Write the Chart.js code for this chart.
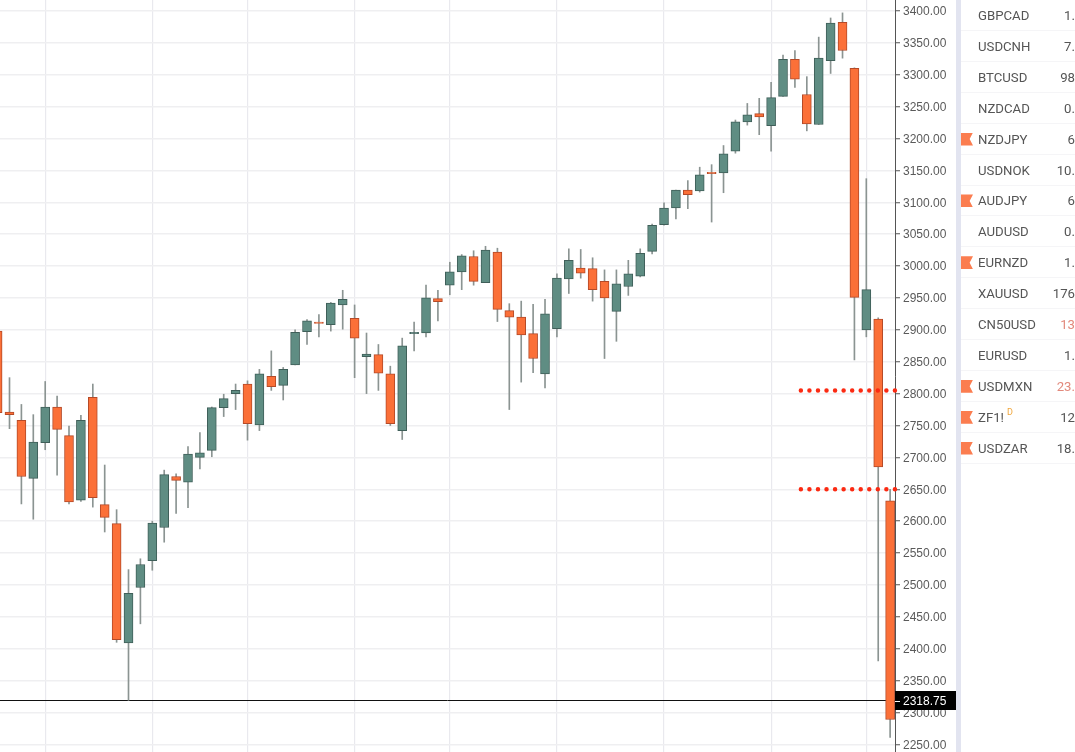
<!DOCTYPE html>
<html><head><meta charset="utf-8">
<script src="https://cdn.jsdelivr.net/npm/chart.js@4/dist/chart.umd.js"></script>
<style>
html,body{margin:0;padding:0;background:#fff;width:1075px;height:752px;overflow:hidden}
#wrap{position:relative;width:1075px;height:752px;overflow:hidden;filter:blur(0.45px)}
canvas{position:absolute;left:0;top:0;display:block}
#strip{position:absolute;left:956px;top:0;width:5px;height:752px;background:#e2e4f0}
#list{position:absolute;left:961px;top:0;width:114px;height:752px;overflow:hidden;font-family:Roboto,sans-serif;font-size:13.2px;color:#555}
.row{position:absolute;left:0;width:114px;height:31px;line-height:31px;border-bottom:1px solid #f5f5f7;box-sizing:border-box}
.sym{position:absolute;left:17px;top:0;white-space:nowrap}
.val{position:absolute;right:0;top:0;white-space:nowrap}
.val.neg{color:#e2897c}
.flag{position:absolute;left:0;top:9px;width:12px;height:13px;background:#fb7d50;clip-path:polygon(0 0,100% 0,72% 50%,100% 100%,0 100%)}
sup{position:absolute;top:-5px;margin-left:3px;font-size:9px;color:#f0a63c;line-height:31px}
</style></head><body>
<div id="wrap">
<canvas id="c" width="956" height="752"></canvas>
<div id="strip"></div>
<div id="list"></div>
</div>
<script>
const opens=[2898,2771,2758,2667,2723,2779,2734,2633,2794,2626,2596,2409,2496,2538,2590,2670,2661,2700,2711,2778,2800,2815,2751,2827,2813,2845,2897,2912,2908,2939,2918,2858,2861,2831,2742,2894,2895,2949,2970,2991,3015,2974,3022,2930,2920,2894,2831,2902,2980,2997,2996,2976,2929,2968,2984,3023,3065,3091,3119,3118,3147,3146,3180,3226,3239,3220,3266,3324,3269,3222,3322,3382,3310,2900,2917,2632];
const highs=[2900,2825,2783,2767,2819,2796,2749,2766,2815,2688,2618,2524,2541,2600,2680,2674,2717,2739,2779,2799,2815,2820,2838,2867,2841,2900,2916,2924,2943,2962,2939,2895,2877,2843,2887,2912,2970,2962,3006,3018,3024,3031,3028,2941,2945,2940,2948,2988,3027,3026,3013,2994,2994,3009,3027,3066,3099,3119,3134,3155,3159,3189,3229,3255,3263,3288,3331,3338,3297,3359,3389,3397,3311,3137,2919,2650];
const lows=[2765,2745,2627,2603,2712,2672,2627,2631,2622,2583,2410,2319,2439,2523,2567,2612,2621,2682,2701,2764,2775,2727,2742,2805,2790,2845,2877,2889,2898,2901,2825,2800,2805,2750,2728,2867,2889,2914,2955,2963,2970,2974,2913,2775,2818,2833,2809,2889,2957,2981,2945,2855,2882,2954,2983,3019,3064,3074,3090,3116,3069,3115,3177,3221,3206,3180,3266,3280,3212,3222,3302,3326,2853,2889,2381,2261];
const closes=[2770,2767,2670,2724,2779,2744,2630,2758,2637,2606,2414,2487,2532,2597,2673,2664,2705,2707,2778,2792,2805,2753,2831,2811,2838,2896,2914,2910,2942,2948,2887,2862,2832,2753,2875,2896,2950,2944,2991,3016,2976,3025,2932,2920,2892,2855,2925,2981,3009,2989,2963,2950,2972,2988,3020,3064,3091,3119,3112,3143,3145,3176,3226,3237,3234,3264,3324,3293,3223,3326,3381,3338,2951,2963,2685,2289];
const gridCandles=[4,13,21,30,38,47,56,65,73];
const lastPrice=2318.75;
const levels=[2805,2650];
const levelStartCandle=67.5;
const symbols=["GBPCAD","USDCNH","BTCUSD","NZDCAD","NZDJPY","USDNOK","AUDJPY","AUDUSD","EURNZD","XAUUSD","CN50USD","EURUSD","USDMXN","ZF1!","USDZAR"];
const quotes=["1.","7.","98","0.","6","10.","6","0.","1.","176","13","1.","23.","12","18."];
const flagged=["NZDJPY","AUDJPY","EURNZD","USDMXN","ZF1!","USDZAR"];
const negative=["CN50USD","USDMXN"];

const XMIN=0.2017,XMAX=75.41,YMIN=2238,YMAX=3417.2;
const UP='#5f8d83',UPB='#3f5f59',DN='#fb7038',DNB='#b44a28';
const isUp=i=>closes[i]>=opens[i];

const labelPlugin={id:'lastLabel',afterDraw(ch){
  const y=ch.scales.y,ctx=ch.ctx,py=y.getPixelForValue(lastPrice);
  ctx.save();
  ctx.fillStyle='#000';ctx.fillRect(ch.chartArea.right,Math.round(py)-10,61,19);
  ctx.fillStyle='#fff';ctx.fillRect(ch.chartArea.right,Math.round(py),5,1);
  ctx.font='12px "Liberation Sans"';ctx.textBaseline='middle';ctx.textAlign='left';
  ctx.fillText(lastPrice.toFixed(2),903,Math.round(py)+1);
  ctx.restore();
}};

new Chart(document.getElementById('c'),{
  data:{datasets:[
    ...levels.map(v=>({type:'line',order:0,data:[{x:levelStartCandle,y:v},{x:XMAX,y:v}],borderColor:'#fb2a12',borderWidth:4.5,borderDash:[0,8.55],borderCapStyle:'round',pointRadius:0,clip:false})),
    {type:'bar',order:1,grouped:false,barThickness:9,borderSkipped:false,borderWidth:1,
      data:opens.map((o,i)=>({x:i,y:[o,closes[i]]})),
      backgroundColor:c=>isUp(c.dataIndex)?UP:DN,borderColor:c=>isUp(c.dataIndex)?UPB:DNB},
    {type:'bar',order:2,grouped:false,barThickness:1,borderWidth:0,
      data:highs.map((h,i)=>({x:i,y:[lows[i],h]})),backgroundColor:'#8b9492'},
    {type:'line',order:3,data:[{x:XMIN,y:lastPrice},{x:XMAX,y:lastPrice}],borderColor:'#111',borderWidth:1,pointRadius:0}
  ]},
  options:{responsive:false,animation:false,
    layout:{padding:0},
    plugins:{legend:{display:false},tooltip:{enabled:false}},
    scales:{
      x:{type:'linear',min:XMIN,max:XMAX,offset:false,
        afterBuildTicks:s=>{s.ticks=gridCandles.map(v=>({value:v}))},
        afterFit:s=>{s.height=0;s.paddingLeft=0;s.paddingRight=0},
        ticks:{display:false,autoSkip:false},
        grid:{offset:false,color:'#e9e9ee',lineWidth:1.2,drawTicks:false},border:{display:false}},
      y:{type:'linear',position:'right',min:YMIN,max:YMAX,
        afterFit:s=>{s.width=61;s.paddingTop=0;s.paddingBottom=0},
        ticks:{stepSize:50,includeBounds:false,padding:3,labelOffset:1,color:'#5a5a5a',font:{family:'"Liberation Sans"',size:12},callback:v=>v.toFixed(2)},
        grid:{color:'#efeff1',lineWidth:1.5,tickColor:'#555',tickLength:5,tickWidth:1},
        border:{display:true,color:'#555',width:1}}
    }},
  plugins:[labelPlugin]
});

const list=document.getElementById('list');
symbols.forEach((s,i)=>{
  const r=document.createElement('div');r.className='row';r.style.top=(i*30.9)+'px';
  if(flagged.includes(s)){const f=document.createElement('div');f.className='flag';r.appendChild(f);}
  const n=document.createElement('span');n.className='sym';n.textContent=s;
  if(s==='ZF1!'){const d=document.createElement('sup');d.textContent='D';n.appendChild(d);}
  r.appendChild(n);
  const v=document.createElement('span');v.className='val'+(negative.includes(s)?' neg':'');v.textContent=quotes[i];r.appendChild(v);
  list.appendChild(r);
});
</script>
</body></html>
